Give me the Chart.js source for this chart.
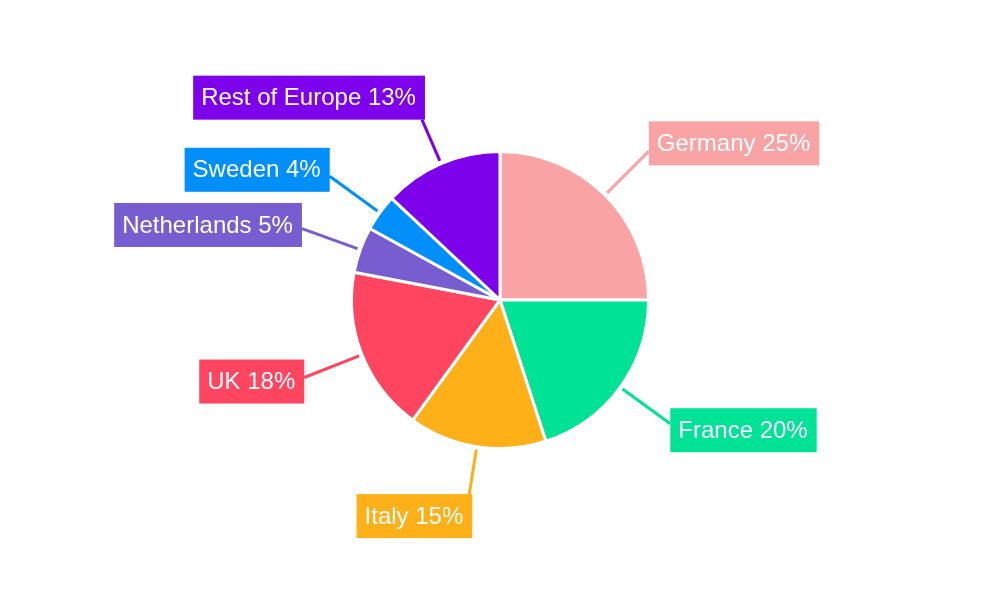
<!DOCTYPE html>
<html lang="en">
<head>
    <meta charset="UTF-8">
    <title>Europe share</title>
    <script src="https://cdn.jsdelivr.net/npm/chart.js"></script>
    <style>
        body { margin: 0; background: #fff; }
        #wrap { width: 1000px; height: 600px; }
    </style>
</head>
<body>
    <div id="wrap"><canvas id="chartCanvas"></canvas></div>
    <script>
        const regions = ['Germany', 'France', 'Italy', 'UK', 'Netherlands', 'Sweden', 'Rest of Europe'];
        const shares = [25, 20, 15, 18, 5, 4, 13];
        const sliceColors = ['#F9A3A4', '#00E396', '#FEB019', '#FF4560', '#775DD0', '#008FFB', '#7D02EB'];

        // draws the coloured label boxes with leader lines outside each slice
        const calloutPlugin = {
            id: 'callouts',
            afterDatasetsDraw(chart) {
                const ctx = chart.ctx;
                const meta = chart.getDatasetMeta(0);
                ctx.save();
                ctx.font = '24px "Liberation Sans", Arial, sans-serif';
                ctx.textBaseline = 'middle';
                meta.data.forEach((arc, i) => {
                    const p = arc.getProps(['x', 'y', 'startAngle', 'endAngle', 'outerRadius'], true);
                    const mid = (p.startAngle + p.endAngle) / 2;
                    const dx = Math.cos(mid), dy = Math.sin(mid);
                    const steep = Math.abs(dx) < 0.45;
                    const rEnd = p.outerRadius + (steep ? 48 : 62);
                    const sx = p.x + dx * (p.outerRadius + 3), sy = p.y + dy * (p.outerRadius + 3);
                    const ex = p.x + dx * rEnd, ey = p.y + dy * rEnd;

                    const text = regions[i] + ' ' + shares[i] + '%';
                    const w = ctx.measureText(text).width + 17;
                    const h = 44;
                    let bx, by;
                    if (steep) {
                        bx = dx < 0 ? ex + 3 - w : ex - 3;
                        by = dy < 0 ? ey - h : ey;
                    } else {
                        bx = dx < 0 ? ex - w : ex;
                        by = ey + dy * 11 - h / 2;
                    }

                    ctx.strokeStyle = sliceColors[i];
                    ctx.lineWidth = 3;
                    ctx.beginPath();
                    ctx.moveTo(sx, sy);
                    ctx.lineTo(ex, ey);
                    ctx.stroke();

                    ctx.fillStyle = sliceColors[i];
                    ctx.fillRect(bx, by, w, h);
                    ctx.fillStyle = '#fff';
                    ctx.textAlign = 'left';
                    ctx.fillText(text, bx + 8, by + h / 2 + 1);
                });
                ctx.restore();
            }
        };

        const ctx = document.getElementById('chartCanvas').getContext('2d');
        new Chart(ctx, {
            type: 'pie',
            data: {
                labels: regions,
                datasets: [{
                    data: shares,
                    backgroundColor: sliceColors,
                    borderColor: '#fff',
                    borderWidth: 3,
                    hoverOffset: 0
                }]
            },
            options: {
                responsive: true,
                maintainAspectRatio: false,
                animation: false,
                layout: { padding: { top: 150, bottom: 150, left: 0, right: 0 } },
                plugins: {
                    legend: { display: false },
                    tooltip: { enabled: false }
                }
            },
            plugins: [calloutPlugin]
        });
    </script>
</body>
</html>
